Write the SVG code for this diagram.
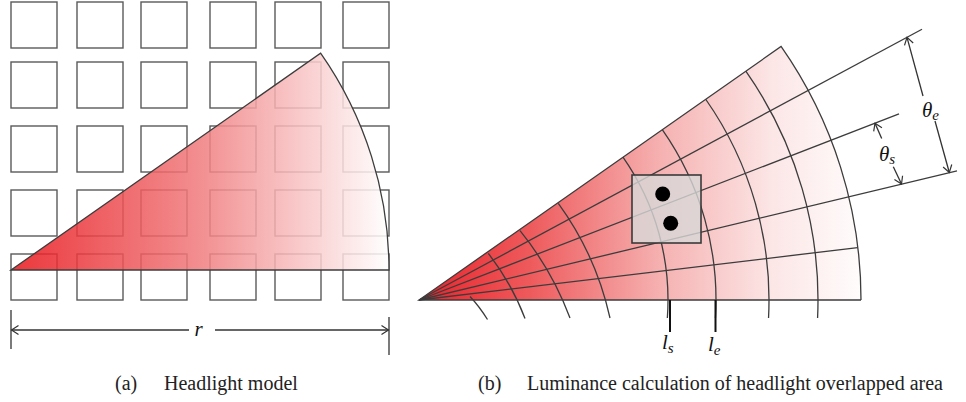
<svg xmlns="http://www.w3.org/2000/svg" width="966" height="402" viewBox="0 0 966 402">
<style>
.sq{fill:none;stroke:#5a5a5a;stroke-width:1.4}
.ln{fill:none;stroke:#3c3c3c;stroke-width:1.3}
.dim{fill:none;stroke:#333;stroke-width:1.3}
.tick{stroke:#111;stroke-width:2}
.it{font-family:"Liberation Serif",serif;font-style:italic;font-size:21px;fill:#111}
.cap{font-family:"Liberation Serif",serif;font-size:20px;fill:#222}
</style>
<defs>
<linearGradient id="gL" gradientUnits="userSpaceOnUse" x1="11" y1="0" x2="389" y2="0">
<stop offset="0" stop-color="#e8161c"/>
<stop offset="0.5" stop-color="#f07c7e"/>
<stop offset="1" stop-color="#ffffff"/>
</linearGradient>
<linearGradient id="gR" gradientUnits="userSpaceOnUse" x1="419" y1="0" x2="861" y2="0">
<stop offset="0" stop-color="#e8222a"/>
<stop offset="0.25" stop-color="#ee5a5c"/>
<stop offset="0.55" stop-color="#f6b2b2"/>
<stop offset="0.8" stop-color="#fce6e6"/>
<stop offset="1" stop-color="#fffcfc"/>
</linearGradient>
<marker id="ah" viewBox="-10 -6 12 12" markerWidth="12" markerHeight="12" refX="0" refY="0" markerUnits="userSpaceOnUse" orient="auto-start-reverse">
<path d="M-7,-4.5 L0,0 L-7,4.5" fill="none" stroke="#333" stroke-width="1.2"/>
</marker>
</defs>

<g id="panel-a">
<g id="grid">
<rect class="sq" x="11" y="2" width="46" height="46"/><rect class="sq" x="77" y="2" width="46" height="46"/><rect class="sq" x="141" y="2" width="46" height="46"/><rect class="sq" x="210" y="2" width="46" height="46"/><rect class="sq" x="275" y="2" width="46" height="46"/><rect class="sq" x="343" y="2" width="46" height="46"/>
<rect class="sq" x="11" y="62" width="46" height="46"/><rect class="sq" x="77" y="62" width="46" height="46"/><rect class="sq" x="141" y="62" width="46" height="46"/><rect class="sq" x="210" y="62" width="46" height="46"/><rect class="sq" x="275" y="62" width="46" height="46"/><rect class="sq" x="343" y="62" width="46" height="46"/>
<rect class="sq" x="11" y="126" width="46" height="46"/><rect class="sq" x="77" y="126" width="46" height="46"/><rect class="sq" x="141" y="126" width="46" height="46"/><rect class="sq" x="210" y="126" width="46" height="46"/><rect class="sq" x="275" y="126" width="46" height="46"/><rect class="sq" x="343" y="126" width="46" height="46"/>
<rect class="sq" x="11" y="190" width="46" height="46"/><rect class="sq" x="77" y="190" width="46" height="46"/><rect class="sq" x="141" y="190" width="46" height="46"/><rect class="sq" x="210" y="190" width="46" height="46"/><rect class="sq" x="275" y="190" width="46" height="46"/><rect class="sq" x="343" y="190" width="46" height="46"/>
<rect class="sq" x="11" y="254" width="46" height="46"/><rect class="sq" x="77" y="254" width="46" height="46"/><rect class="sq" x="141" y="254" width="46" height="46"/><rect class="sq" x="210" y="254" width="46" height="46"/><rect class="sq" x="275" y="254" width="46" height="46"/><rect class="sq" x="343" y="254" width="46" height="46"/>
</g>
<g id="headlight-a">
<path d="M11,270 L320.6,53.2 A378,378 0 0 1 389,270 Z" fill="url(#gL)" fill-opacity="0.86" stroke="#3c3c3c" stroke-width="1.3"/>
</g>
<g id="dim-r">
<line class="dim" x1="11" y1="310" x2="11" y2="349"/>
<line class="dim" x1="389" y1="317" x2="389" y2="355"/>
<line class="dim" x1="11.5" y1="330" x2="189" y2="330" marker-start="url(#ah)"/>
<line class="dim" x1="215" y1="330" x2="388.5" y2="330" marker-end="url(#ah)"/>
<text class="it" x="198.5" y="335.5" text-anchor="middle">r</text>
</g>
<text class="cap" y="390"><tspan x="115">(a)</tspan><tspan x="164">Headlight model</tspan></text>
</g>

<g id="panel-b">
<g id="headlight-b">
<path d="M419,300 L781.06,46.48 A442,442 0 0 1 861,300 Z" fill="url(#gR)"/>
</g>
<g id="rays" class="ln">
<line x1="419" y1="300" x2="857.7" y2="247.6"/>
<line x1="419" y1="300" x2="957" y2="170.8"/>
<line x1="419" y1="300" x2="899" y2="113.8"/>
<line x1="419" y1="300" x2="922" y2="29.2"/>
</g>
<g id="arcs" class="ln">
<path d="M470,296.5 Q479,306 487.5,319.5"/>
<path d="M488.3,253.3 Q512,284 525,318.5"/>
<path d="M520,230.7 Q552,270 570,318"/>
<path d="M558.3,203.3 Q596,255 610,318"/>
<path d="M622.97,157.18 A249,249 0 0 1 667.35,318"/>
<path d="M662.29,129.65 A297,297 0 0 1 715.45,318"/>
<path d="M705.7,99.25 A350,350 0 0 1 768.54,318"/>
<path d="M745.84,71.14 A399,399 0 0 1 817.59,318"/>
</g>
<g id="outline-b" class="ln">
<path d="M861,300 L419,300 L781.06,46.48 A442,442 0 0 1 861,300"/>
</g>
<g id="overlap-area">
<rect x="632" y="175" width="69" height="68" fill="#d8d8d8" fill-opacity="0.8" stroke="#3a3a3a" stroke-width="1.6"/>
<circle cx="662.7" cy="194" r="7.5" fill="#000"/>
<circle cx="670.7" cy="223.3" r="7.5" fill="#000"/>
</g>
<g id="dim-theta" class="dim">
<line x1="907" y1="37.4" x2="923" y2="96" marker-start="url(#ah)"/>
<line x1="935" y1="121" x2="949.3" y2="172.5" marker-end="url(#ah)"/>
<line x1="875" y1="123.2" x2="881.7" y2="138.5" marker-start="url(#ah)"/>
<line x1="893.3" y1="166.7" x2="901.5" y2="184" marker-end="url(#ah)"/>
</g>
<text class="it" x="922" y="116.5">θ<tspan font-size="15" dy="3">e</tspan></text>
<text class="it" x="879" y="160.5">θ<tspan font-size="15" dy="3.5">s</tspan></text>
<g id="l-marks">
<line class="tick" x1="670" y1="300" x2="670" y2="332"/>
<line class="tick" x1="715.5" y1="300" x2="715.5" y2="332"/>
<text class="it" x="662" y="348.5">l<tspan font-size="15" dy="4">s</tspan></text>
<text class="it" x="708" y="351">l<tspan font-size="15" dy="3.5">e</tspan></text>
</g>
<text class="cap" y="390"><tspan x="478">(b)</tspan><tspan x="527">Luminance calculation of headlight overlapped area</tspan></text>
</g>
</svg>
